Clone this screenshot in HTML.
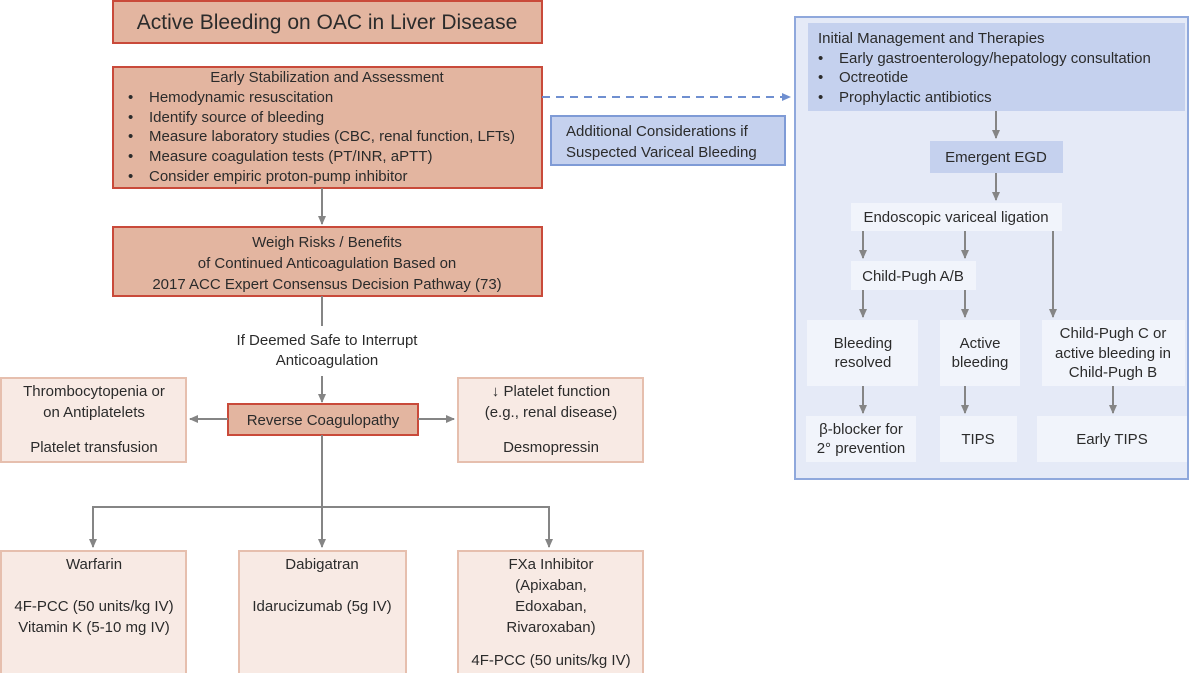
<!DOCTYPE html>
<html><head><meta charset="utf-8"><style>
html,body{margin:0;padding:0;background:#fff;width:1200px;height:673px;overflow:hidden}
svg text{font-family:"Liberation Sans",sans-serif;fill:#2b2b2b}
</style></head><body>
<svg width="1200" height="673" viewBox="0 0 1200 673" xmlns="http://www.w3.org/2000/svg">
<defs>
<marker id="ag" markerWidth="10" markerHeight="10" refX="8" refY="5" orient="auto" markerUnits="userSpaceOnUse"><path d="M0,1 L9,5 L0,9 z" fill="#858585"/></marker>
<marker id="ab" markerWidth="10" markerHeight="10" refX="8" refY="5" orient="auto" markerUnits="userSpaceOnUse"><path d="M0,1 L9,5 L0,9 z" fill="#6f8fd0"/></marker>
</defs>
<rect x="113" y="1" width="429" height="42" fill="#e3b5a0" stroke="#c94a3a" stroke-width="2"/>
<text x="327" y="29" font-size="21" text-anchor="middle">Active Bleeding on OAC in Liver Disease</text>

<rect x="113" y="67" width="429" height="121" fill="#e3b5a0" stroke="#c94a3a" stroke-width="2"/>
<g font-size="15">
<text x="327" y="82" text-anchor="middle">Early Stabilization and Assessment</text>
<text x="128" y="102">•</text><text x="149" y="102">Hemodynamic resuscitation</text>
<text x="128" y="122">•</text><text x="149" y="122">Identify source of bleeding</text>
<text x="128" y="141">•</text><text x="149" y="141">Measure laboratory studies (CBC, renal function, LFTs)</text>
<text x="128" y="161">•</text><text x="149" y="161">Measure coagulation tests (PT/INR, aPTT)</text>
<text x="128" y="181">•</text><text x="149" y="181">Consider empiric proton-pump inhibitor</text>
</g>
<line x1="322" y1="188" x2="322" y2="224" stroke="#858585" stroke-width="2" marker-end="url(#ag)"/>

<rect x="113" y="227" width="429" height="69" fill="#e3b5a0" stroke="#c94a3a" stroke-width="2"/>
<g font-size="15" text-anchor="middle">
<text x="327" y="247">Weigh Risks / Benefits</text>
<text x="327" y="268">of Continued Anticoagulation Based on</text>
<text x="327" y="289">2017 ACC Expert Consensus Decision Pathway (73)</text>
<text x="327" y="345">If Deemed Safe to Interrupt</text>
<text x="327" y="365">Anticoagulation</text>
</g>
<line x1="322" y1="296" x2="322" y2="326" stroke="#858585" stroke-width="2"/>
<line x1="322" y1="376" x2="322" y2="402" stroke="#858585" stroke-width="2" marker-end="url(#ag)"/>

<rect x="1" y="378" width="185" height="84" fill="#f8eae4" stroke="#e6bfae" stroke-width="2"/>
<rect x="458" y="378" width="185" height="84" fill="#f8eae4" stroke="#e6bfae" stroke-width="2"/>
<rect x="228" y="404" width="190" height="31" fill="#e3b5a0" stroke="#c94a3a" stroke-width="2"/>
<g font-size="15" text-anchor="middle">
<text x="94" y="396">Thrombocytopenia or</text>
<text x="94" y="417">on Antiplatelets</text>
<text x="94" y="452">Platelet transfusion</text>
<text x="551" y="396">↓ Platelet function</text>
<text x="551" y="417">(e.g., renal disease)</text>
<text x="551" y="452">Desmopressin</text>
<text x="323" y="425">Reverse Coagulopathy</text>
</g>
<line x1="228" y1="419" x2="190" y2="419" stroke="#858585" stroke-width="2" marker-end="url(#ag)"/>
<line x1="418" y1="419" x2="454" y2="419" stroke="#858585" stroke-width="2" marker-end="url(#ag)"/>
<line x1="322" y1="435" x2="322" y2="547" stroke="#858585" stroke-width="2" marker-end="url(#ag)"/>
<polyline points="93,547 93,507 549,507 549,547" fill="none" stroke="#858585" stroke-width="2"/>
<line x1="93" y1="535" x2="93" y2="547" stroke="#858585" stroke-width="2" marker-end="url(#ag)"/>
<line x1="549" y1="535" x2="549" y2="547" stroke="#858585" stroke-width="2" marker-end="url(#ag)"/>

<rect x="1" y="551" width="185" height="130" fill="#f8eae4" stroke="#e6bfae" stroke-width="2"/>
<rect x="239" y="551" width="167" height="130" fill="#f8eae4" stroke="#e6bfae" stroke-width="2"/>
<rect x="458" y="551" width="185" height="130" fill="#f8eae4" stroke="#e6bfae" stroke-width="2"/>
<g font-size="15" text-anchor="middle">
<text x="94" y="569">Warfarin</text>
<text x="94" y="611">4F-PCC (50 units/kg IV)</text>
<text x="94" y="632">Vitamin K (5-10 mg IV)</text>
<text x="322" y="569">Dabigatran</text>
<text x="322" y="611">Idarucizumab (5g IV)</text>
<text x="551" y="569">FXa Inhibitor</text>
<text x="551" y="590">(Apixaban,</text>
<text x="551" y="611">Edoxaban,</text>
<text x="551" y="632">Rivaroxaban)</text>
<text x="551" y="665">4F-PCC (50 units/kg IV)</text>
</g>

<line x1="542" y1="97" x2="790" y2="97" stroke="#6f8fd0" stroke-width="2" stroke-dasharray="8,6" marker-end="url(#ab)"/>
<rect x="551" y="116" width="234" height="49" fill="#c5d1ee" stroke="#7f9bd6" stroke-width="2"/>
<g font-size="15"><text x="566" y="136">Additional Considerations if</text><text x="566" y="157">Suspected Variceal Bleeding</text></g>

<rect x="795" y="17" width="393" height="462" fill="#e5eaf7" stroke="#8fa8dc" stroke-width="2"/>
<rect x="808" y="23" width="377" height="88" fill="#c5d1ee"/>
<g font-size="15">
<text x="818" y="43">Initial Management and Therapies</text>
<text x="818" y="63">•</text><text x="839" y="63">Early gastroenterology/hepatology consultation</text>
<text x="818" y="82">•</text><text x="839" y="82">Octreotide</text>
<text x="818" y="102">•</text><text x="839" y="102">Prophylactic antibiotics</text>
</g>
<rect x="930" y="141" width="133" height="32" fill="#c5d1ee"/>
<rect x="851" y="203" width="211" height="28" fill="#f1f4fb"/>
<rect x="851" y="261" width="125" height="29" fill="#f1f4fb"/>
<rect x="807" y="320" width="111" height="66" fill="#f1f4fb"/>
<rect x="940" y="320" width="80" height="66" fill="#f1f4fb"/>
<rect x="1042" y="320" width="143" height="66" fill="#f1f4fb"/>
<rect x="806" y="416" width="110" height="46" fill="#f1f4fb"/>
<rect x="940" y="416" width="77" height="46" fill="#f1f4fb"/>
<rect x="1037" y="416" width="150" height="46" fill="#f1f4fb"/>
<g font-size="15" text-anchor="middle">
<text x="996" y="162">Emergent EGD</text>
<text x="956" y="222">Endoscopic variceal ligation</text>
<text x="913" y="281">Child-Pugh A/B</text>
<text x="863" y="348">Bleeding</text><text x="863" y="367">resolved</text>
<text x="980" y="348">Active</text><text x="980" y="367">bleeding</text>
<text x="1113" y="338">Child-Pugh C or</text><text x="1113" y="358">active bleeding in</text><text x="1113" y="377">Child-Pugh B</text>
<text x="861" y="434">β-blocker for</text><text x="861" y="453">2° prevention</text>
<text x="978" y="444">TIPS</text>
<text x="1112" y="444">Early TIPS</text>
</g>
<g stroke="#858585" stroke-width="2">
<line x1="996" y1="111" x2="996" y2="138" marker-end="url(#ag)"/>
<line x1="996" y1="173" x2="996" y2="200" marker-end="url(#ag)"/>
<line x1="863" y1="231" x2="863" y2="258" marker-end="url(#ag)"/>
<line x1="965" y1="231" x2="965" y2="258" marker-end="url(#ag)"/>
<line x1="1053" y1="231" x2="1053" y2="317" marker-end="url(#ag)"/>
<line x1="863" y1="290" x2="863" y2="317" marker-end="url(#ag)"/>
<line x1="965" y1="290" x2="965" y2="317" marker-end="url(#ag)"/>
<line x1="863" y1="386" x2="863" y2="413" marker-end="url(#ag)"/>
<line x1="965" y1="386" x2="965" y2="413" marker-end="url(#ag)"/>
<line x1="1113" y1="386" x2="1113" y2="413" marker-end="url(#ag)"/>
</g>
</svg>
</body></html>
